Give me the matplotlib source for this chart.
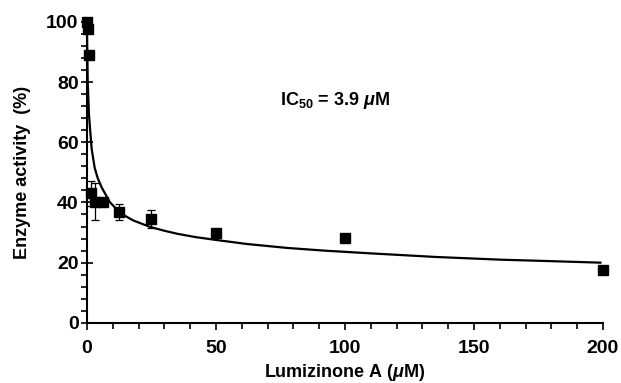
import numpy as np
import matplotlib
matplotlib.use("Agg")
import matplotlib.pyplot as plt
from matplotlib.ticker import MultipleLocator

# ---- data ----
conc = [0.2, 0.39, 0.78, 1.56, 3.13, 6.25, 12.5, 25, 50, 100, 200]
activity = [100, 97.5, 89, 43, 40.3, 40.3, 36.8, 34.5, 29.8, 28.2, 17.5]
err = [0.5, 0.5, 0.5, 4.2, 6.2, 0.8, 2.6, 3.1, 0.8, 0.6, 0.5]

# fitted curve
fit_x = [0, 0.1, 0.3, 0.8, 1.8, 3.0, 4.2, 5.7, 8.8, 12.8, 18, 24.4, 30, 35,
         42, 50.4, 62, 77.5, 92, 109.7, 135, 160, 180, 199]
fit_y = [100, 92, 80, 69, 58, 51.5, 48, 45, 40.2, 36.5, 34, 31.9, 30.6, 29.6,
         28.5, 27.5, 26.2, 24.9, 24.0, 23.1, 21.9, 21.0, 20.5, 20.0]

ic50_label = r"IC$_{50}$ = 3.9 $\mu$M"

# ---- style ----
plt.rcParams["font.family"] = ["Liberation Sans", "DejaVu Sans"]
plt.rcParams["font.weight"] = "bold"
plt.rcParams["mathtext.fontset"] = "custom"
plt.rcParams["mathtext.rm"] = "Liberation Sans:bold"
plt.rcParams["mathtext.bf"] = "Liberation Sans:bold"
plt.rcParams["mathtext.it"] = "Liberation Sans:italic:bold"

fig = plt.figure(figsize=(6.21, 3.83), dpi=100)
ax = fig.add_axes([0.140, 0.157, 0.831, 0.786])

ax.plot(fit_x, fit_y, color="black", lw=1.6, zorder=2, clip_on=False)
eb = ax.errorbar(conc, activity, yerr=err, fmt="s", color="black", ms=6.5,
                 ecolor="black", elinewidth=0.9, capsize=3, capthick=0.9, zorder=3)
for artist in eb.get_children():
    artist.set_clip_on(False)

ax.text(75, 74, ic50_label, fontsize=13, fontweight="bold", ha="left", va="center")

ax.set_xlim(0, 200)
ax.set_ylim(0, 100)
ax.xaxis.set_major_locator(MultipleLocator(50))
ax.xaxis.set_minor_locator(MultipleLocator(10))
ax.yaxis.set_major_locator(MultipleLocator(20))
ax.yaxis.set_minor_locator(MultipleLocator(4))

for s in ["top", "right"]:
    ax.spines[s].set_visible(False)
for s in ["left", "bottom"]:
    ax.spines[s].set_linewidth(1.5)

ax.tick_params(axis="y", which="major", direction="inout", length=8, width=1.2)
ax.tick_params(axis="y", which="minor", direction="out", length=4, width=1.2)
ax.tick_params(axis="x", which="major", direction="out", length=5, width=1.2)
ax.tick_params(axis="x", which="minor", direction="out", length=4, width=1.2)
ax.tick_params(labelsize=14)
ax.tick_params(axis="y", pad=2)
ax.tick_params(axis="x", pad=7)
for lab in ax.get_xticklabels() + ax.get_yticklabels():
    lab.set_fontweight("bold")

ax.set_xlabel(r"Lumizinone A ($\mu$M)", fontsize=13, fontweight="bold", labelpad=4)
ax.set_ylabel("Enzyme activity  (%)", fontsize=13, fontweight="bold", labelpad=11)

fig.savefig("out.png", dpi=100)
